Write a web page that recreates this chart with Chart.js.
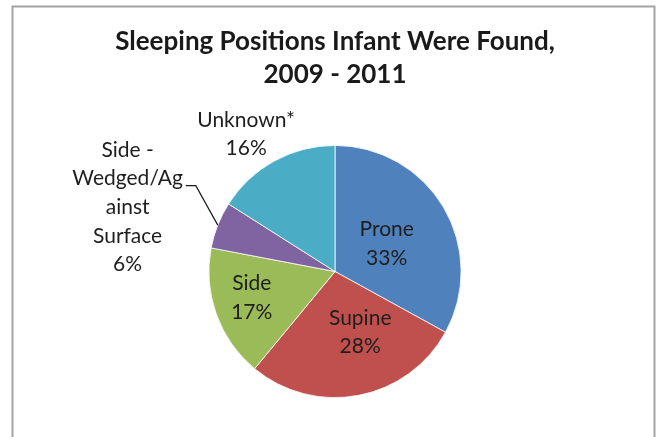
<!DOCTYPE html>
<html>
<head>
<meta charset="utf-8">
<script src="https://cdn.jsdelivr.net/npm/chart.js@4/dist/chart.umd.min.js"></script>
<style>
  html, body { margin: 0; padding: 0; background: #ffffff; }
  #wrap { position: relative; width: 657px; height: 437px; }
</style>
</head>
<body>
<div id="wrap"><canvas id="c" width="657" height="437"></canvas></div>
<script>
// ---- data ----
const categories = ["Prone", "Supine", "Side", "Side - Wedged/Against Surface", "Unknown*"];
const values = [33, 28, 17, 6, 16];
const labelLines = [
  ["Prone", "33%"],
  ["Supine", "28%"],
  ["Side", "17%"],
  ["Side -", "Wedged/Ag", "ainst", "Surface", "6%"],
  ["Unknown*", "16%"]
];
const titleLines = ["Sleeping Positions Infant Were Found,", "2009 - 2011"];
const sliceColors = ["#4F81BD", "#C0504D", "#9BBB59", "#8064A2", "#4BACC6"];

// label placement relative to pie centre, in units of the pie radius
const labelOffsets = [
  [0.41, -0.22],
  [0.20, 0.48],
  [-0.66, 0.21],
  [-1.645, -0.51],
  [-0.705, -1.09]
];
const leaderSlice = 3;

const FONT = "Lato, 'Open Sans', sans-serif";

const framePlugin = {
  id: 'frame',
  beforeDraw(chart) {
    const ctx = chart.ctx;
    ctx.save();
    ctx.fillStyle = '#ffffff';
    ctx.fillRect(0, 0, chart.width, chart.height);
    ctx.strokeStyle = '#a3a3a3';
    ctx.lineWidth = 2;
    ctx.strokeRect(12.5, 6.5, 642, 450);
    ctx.restore();
  }
};

const labelPlugin = {
  id: 'sliceLabels',
  afterDatasetsDraw(chart) {
    const ctx = chart.ctx;
    const meta = chart.getDatasetMeta(0);
    const fontSize = 21;
    const lh = 28.6;
    ctx.save();
    ctx.font = fontSize + "px " + FONT;
    ctx.fillStyle = '#1e1e1e';
    ctx.textAlign = 'center';
    ctx.textBaseline = 'middle';
    meta.data.forEach((arc, i) => {
      const p = arc.getProps(['x', 'y', 'outerRadius', 'startAngle', 'endAngle'], true);
      const r = p.outerRadius;
      const cx = p.x + labelOffsets[i][0] * r;
      const cy = p.y + labelOffsets[i][1] * r;
      const lines = labelLines[i];
      const top = cy - (lines.length - 1) * lh / 2;
      lines.forEach((t, k) => ctx.fillText(t, cx, top + k * lh));
      if (i === leaderSlice) {
        const mid = (p.startAngle + p.endAngle) / 2;
        const ex = p.x + Math.cos(mid) * r;
        const ey = p.y + Math.sin(mid) * r;
        const w = ctx.measureText(lines[1]).width;
        const sx = cx + w / 2 + 3;
        const sy = top + lh + 7;
        ctx.beginPath();
        ctx.strokeStyle = '#1a1a1a';
        ctx.lineWidth = 1.2;
        ctx.moveTo(sx, sy);
        ctx.lineTo(sx + 10, sy);
        ctx.lineTo(ex, ey);
        ctx.stroke();
      }
    });
    ctx.restore();
  }
};

new Chart(document.getElementById('c'), {
  type: 'pie',
  data: {
    labels: categories,
    datasets: [{
      data: values,
      backgroundColor: sliceColors,
      borderColor: '#ffffff',
      borderWidth: 0.8
    }]
  },
  options: {
    responsive: false,
    animation: false,
    layout: { padding: { left: 100, right: 87, top: 0, bottom: 39 } },
    plugins: {
      legend: { display: false },
      tooltip: { enabled: false },
      title: {
        display: true,
        text: titleLines,
        color: '#1a1a1a',
        font: { family: FONT, size: 26, weight: 'bold', lineHeight: 1.27 },
        padding: { top: 25, bottom: 54 }
      }
    }
  },
  plugins: [framePlugin, labelPlugin]
});
</script>
</body>
</html>
